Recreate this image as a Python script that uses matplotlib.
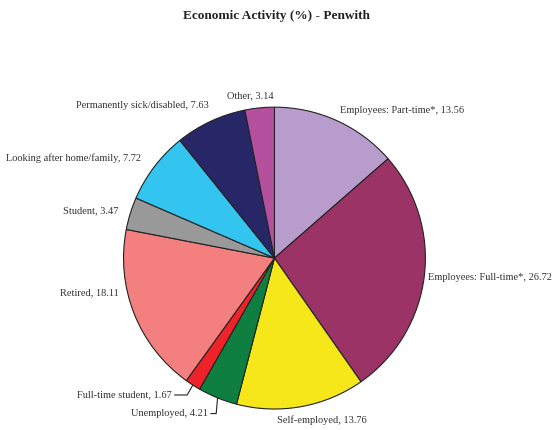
import matplotlib
matplotlib.use("Agg")
import matplotlib.pyplot as plt
import numpy as np

categories = ["Employees: Part-time*", "Employees: Full-time*", "Self-employed",
              "Unemployed", "Full-time student", "Retired", "Student",
              "Looking after home/family", "Permanently sick/disabled", "Other"]
values = [13.56, 26.72, 13.76, 4.21, 1.67, 18.11, 3.47, 7.72, 7.63, 3.14]
colors = ["#B89CCB", "#9B3366", "#F5E71A", "#0E7F40", "#EE2229",
          "#F47F7F", "#999999", "#33C4F0", "#272768", "#B5509E"]
title = "Economic Activity (%) - Penwith"

plt.rcParams['font.family'] = ['Liberation Serif', 'DejaVu Serif']

fig = plt.figure(figsize=(5.52, 4.30), dpi=100)
ax = fig.add_axes([0.2237, 0.0488, 0.547, 0.702])

labels = [f"{c}, {v:.2f}" for c, v in zip(categories, values)]
wedges, texts = ax.pie(values, colors=colors, startangle=90, counterclock=False,
                       labels=labels, labeldistance=1.05,
                       wedgeprops=dict(edgecolor="#222222", linewidth=0.8),
                       textprops=dict(fontsize=7.5, color="#333333"))
ax.set_xlim(-1, 1)
ax.set_ylim(-1, 1)
ax.set_aspect("equal")
ax.axis("off")

def shift(t, dx, dy):
    x, y = t.get_position()
    t.set_position((x + dx, y + dy))

# adjustments for specific labels (Excel-like placement)
shift(texts[0], 0.0, 0.02)
shift(texts[1], -0.025, 0.0)
texts[2].set_horizontalalignment("center")
shift(texts[2], 0.13, -0.04)
texts[5].set_position((-1.03, -0.23))
shift(texts[6], -0.033, 0.0)
shift(texts[7], -0.05, 0.027)
shift(texts[8], 0.01, 0.06)
shift(texts[9], 0.1, 0.033)

# leader lines for small slices
for idx, (tx, ty), angB in [(4, (-0.68, -0.907), 60), (3, (-0.44, -1.03), 85)]:
    w = wedges[idx]
    ang = np.deg2rad((w.theta1 + w.theta2) / 2)
    px, py = np.cos(ang), np.sin(ang)
    texts[idx].set_visible(False)
    ax.annotate(labels[idx], xy=(px, py), xytext=(tx, ty),
                ha="right", va="center", fontsize=7.5, color="#333333",
                arrowprops=dict(arrowstyle="-", color="#222222", lw=0.8,
                                connectionstyle=f"angle,angleA=0,angleB={angB},rad=0",
                                shrinkA=0, shrinkB=0))

fig.text(0.5, 0.963, title, ha="center", va="center", fontsize=9.5,
         fontweight="bold", color="#222222")

fig.savefig("out.png", dpi=100)
